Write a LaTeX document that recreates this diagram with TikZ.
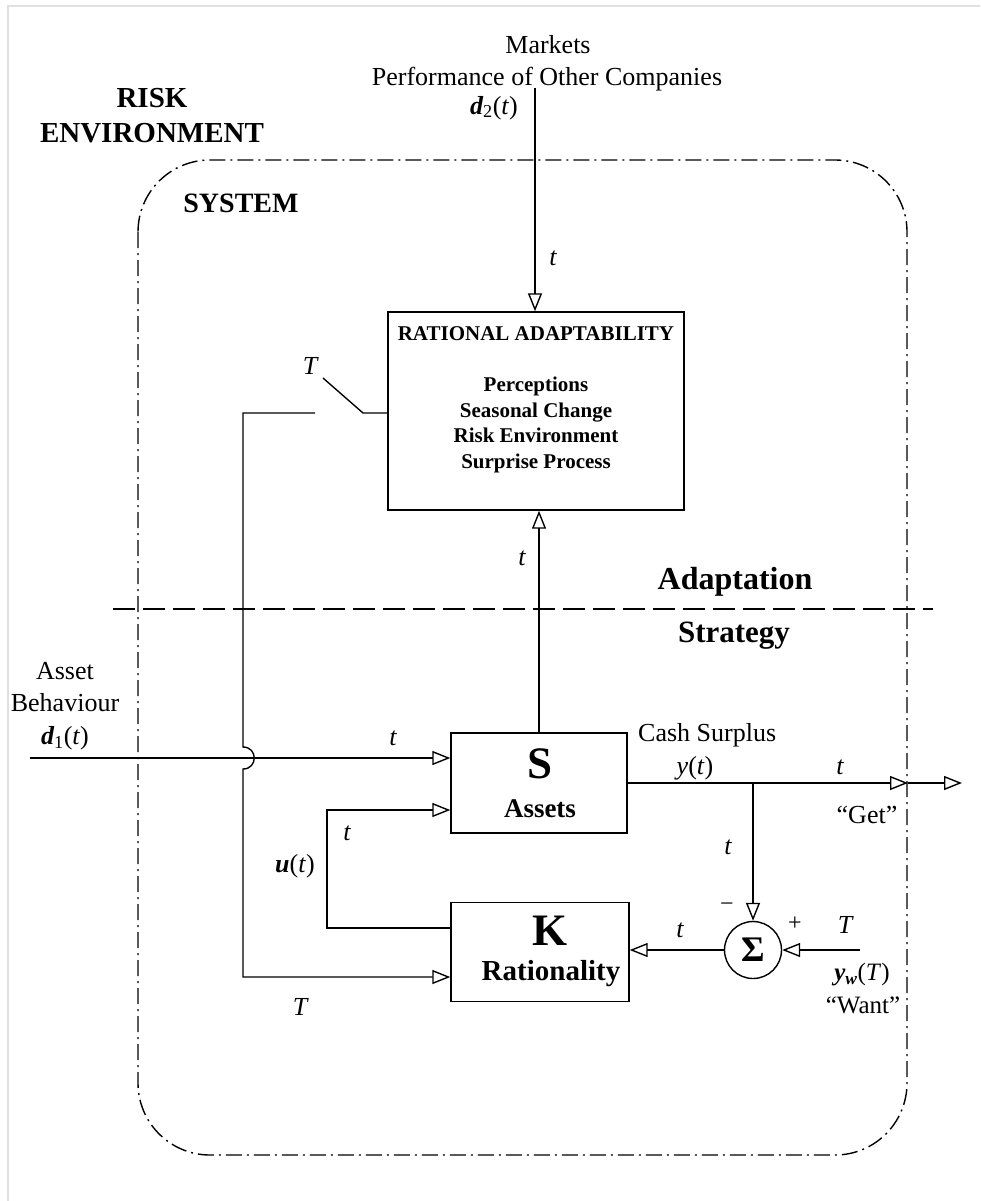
\documentclass[tikz,border=0pt]{standalone}
\usepackage{fontspec}
\setmainfont{Liberation Serif}
\usetikzlibrary{arrows.meta}
\begin{document}
\begin{tikzpicture}[x=1pt,y=-1pt,
  ln/.style={line width=1.4pt},
  arr/.style={ln, -{Triangle[open, length=18pt, width=14pt, line width=1.4pt]}},
  blk/.style={draw, line width=1.4pt, inner sep=0pt},
  lbl/.style={inner sep=0pt, font=\fontsize{26}{32}\selectfont},
  mlbl/.style={inner sep=0pt, font=\fontsize{26}{32}\selectfont\itshape},
  big/.style={inner sep=0pt, font=\fontsize{29}{35}\selectfont\bfseries},
  dashdot/.style={line width=1.4pt, dash pattern=on 16pt off 5pt on 2pt off 5pt},
  dsh/.style={line width=1.4pt, dash pattern=on 22pt off 8pt}]
\fill[white] (0,0) rectangle (980,1201);
\useasboundingbox (0,0) rectangle (980,1201);
\draw[black!12, line width=2pt] (8,1201) -- (8,6) -- (980,6);

% environment / system
\draw[dashdot, rounded corners=72pt] (138,160) rectangle (907,1155);
\draw[dsh] (113,609) -- (933,609);
\node[big, align=center, font=\fontsize{29}{35}\selectfont\bfseries] (risk) at (152,116) {RISK\\ENVIRONMENT};
\node[big, font=\fontsize{28}{32}\selectfont\bfseries] (sys) at (241,203) {SYSTEM};
\node[big, font=\fontsize{32}{36}\selectfont\bfseries] (adp) at (735,582) {Adaptation};
\node[big, font=\fontsize{31}{36}\selectfont\bfseries] (str) at (734,636) {Strategy};

% top input
\node[lbl] (mk) at (548,45) {Markets};
\node[lbl] (perf) at (547,79) {Performance of Other Companies};
\node[lbl] (d2) at (494,108) {{\bfseries\itshape d}\textsubscript{2}(\textit{t})};
\node[mlbl] (t1) at (553,258) {t};

% blocks
\node[blk, minimum width=296pt, minimum height=198pt] (RA) at (536,411) {};
\node[inner sep=0pt, font=\fontsize{21}{24}\selectfont\bfseries] (RAt) at (536,334) {RATIONAL ADAPTABILITY};
\node[inner sep=0pt, align=center, font=\fontsize{21}{25.7}\selectfont\bfseries] (RAl) at (536,425) {Perceptions\\Seasonal Change\\Risk Environment\\Surprise Process};

\node[blk, minimum width=176pt, minimum height=100pt] (S) at (539,783) {};
\node[inner sep=0pt, font=\fontsize{45}{50}\selectfont\bfseries] (Sl) at (540,764) {S};
\node[inner sep=0pt, font=\fontsize{27}{32}\selectfont\bfseries] (Sa) at (540,809) {Assets};

\node[blk, minimum width=178pt, minimum height=99pt] (K) at (540,952) {};
\node[inner sep=0pt, font=\fontsize{45}{50}\selectfont\bfseries] (Kl) at (550,931) {K};
\node[inner sep=0pt, font=\fontsize{29}{34}\selectfont\bfseries] (Kr) at (551,974) {Rationality};

\node[draw, circle, line width=1.4pt, minimum size=57pt, inner sep=0pt, font=\fontsize{36}{40}\selectfont\bfseries] (sig) at (753,950) {Σ};

% connectors
\coordinate (d2top) at (535,88);
\draw[arr] (d2top) -- (d2top |- RA.north);
\draw[arr] (S.north) -- (S.north |- RA.south);

% switch
\coordinate (swL) at (243,413);
\coordinate (swA) at (315,413);
\coordinate (swB) at (323,378);
\coordinate (swC) at (363,413);
\draw[ln] (swB) -- (swC) -- (swC -| RA.west);
\coordinate (jA) at (243,747);
\coordinate (jB) at (243,769);
\coordinate (kb) at (243,977);
\draw[arr] (swA) -- (swL) -- (jA) .. controls (258,747) and (258,769) .. (jB) -- (kb) -- (kb -| K.west);

% d1
\coordinate (d1s) at (30,758);
\draw[arr] (d1s) -- (d1s -| S.west);

% u loop
\coordinate (ka) at (451,928);
\coordinate (ub) at (327,928);
\coordinate (uc) at (327,810);
\draw[arr] (ka) -- (ub) -- (uc) -- (uc -| S.west);

% output
\coordinate (br) at (753,783);
\coordinate (getb) at (908,783);
\coordinate (gete) at (962,783);
\draw[arr] (S.east) -- (getb);
\draw[arr] (getb) -- (gete);
\draw[arr] (br) -- (sig.north);
\draw[arr] (sig.west) -- (sig.west -| K.east);
\coordinate (ywin) at (860,950);
\draw[arr] (ywin) -- (sig.east);

% labels
\node[mlbl] (Tsw) at (310,366) {T};
\node[mlbl] (tup) at (522,558) {t};
\node[lbl, align=center, font=\fontsize{26}{32.5}\selectfont] (d1) at (65,706) {Asset\\Behaviour\\{\bfseries\itshape d}\textsubscript{1}(\textit{t})};
\node[mlbl] (td1) at (393,738) {t};
\node[mlbl] (tu) at (347,833) {t};
\node[lbl] (u) at (295,866) {{\bfseries\itshape u}(\textit{t})};
\node[lbl, anchor=west] (cash) at (638,735) {Cash Surplus};
\node[lbl] (y) at (695,768) {\textit{y}(\textit{t})};
\node[mlbl] (tget) at (840,767) {t};
\node[lbl] (get) at (867,815) {“Get”};
\node[mlbl] (tdn) at (728,847) {t};
\node[inner sep=0pt, font=\fontsize{24}{26}\selectfont] (minus) at (727,907) {−};
\node[inner sep=0pt, font=\fontsize{24}{26}\selectfont] (plus) at (795,924) {+};
\node[mlbl] (Tw) at (845,925) {T};
\node[mlbl] (tk) at (680,930) {t};
\node[lbl, font=\fontsize{25}{30}\selectfont] (yw) at (862,975) {{\bfseries\itshape y}\textsubscript{\bfseries\itshape w}(\textit{T})};
\node[lbl, font=\fontsize{25}{30}\selectfont] (want) at (863,1005) {“Want”};
\node[mlbl] (Tk) at (300,1007) {T};
\end{tikzpicture}
\end{document}
